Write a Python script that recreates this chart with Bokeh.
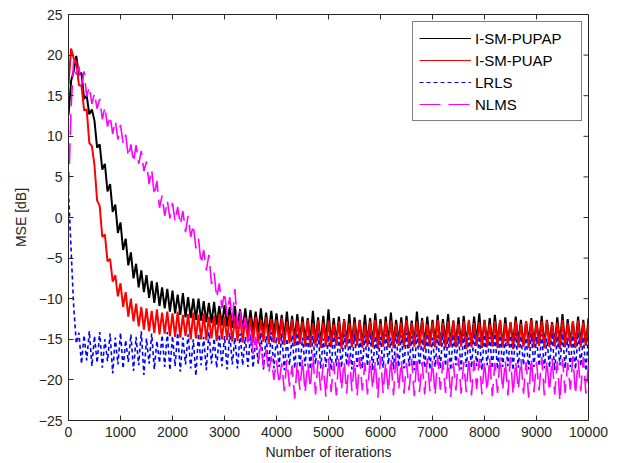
import math
from bokeh.plotting import figure
from bokeh.models import FixedTicker, Range1d, Legend
from bokeh.embed import file_html
from bokeh.resources import INLINE

# ---- data ----
iterations = list(range(0, 10001, 50))

x_ticks = [0, 1000, 2000, 3000, 4000, 5000, 6000, 7000, 8000, 9000, 10000]
y_ticks = [-25, -20, -15, -10, -5, 0, 5, 10, 15, 20, 25]

series_names = ["I-SM-PUPAP", "I-SM-PUAP", "LRLS", "NLMS"]

mse_ism_pupap = [
    12.6, 16.8, 18.0, 19.9, 17.6, 17.8, 14.6, 15.0, 12.7, 13.3,
    11.9, 8.6, 9.0, 5.9, 6.6, 3.2, 4.1, 0.7, 1.6, -1.9,
    -0.6, -4.0, -2.6, -5.9, -4.3, -7.5, -5.7, -8.6, -6.5, -9.2,
    -7.1, -9.9, -7.8, -10.5, -8.0, -10.9, -8.6, -11.2, -8.8, -11.6,
    -9.0, -11.8, -9.5, -12.0, -9.3, -12.3, -9.8, -12.4, -10.0, -12.6,
    -10.0, -12.7, -10.3, -12.9, -10.5, -13.0, -10.4, -13.2, -10.9, -13.3,
    -10.8, -13.4, -11.0, -13.6, -10.9, -13.7, -11.3, -13.8, -11.2, -14.0,
    -11.4, -14.0, -11.6, -14.1, -11.2, -14.3, -11.7, -14.4, -11.5, -14.5,
    -11.8, -14.6, -12.0, -14.8, -11.6, -14.9, -12.1, -15.0, -11.9, -15.1,
    -12.2, -15.2, -12.4, -15.4, -11.5, -15.3, -12.3, -15.6, -12.1, -15.2,
    -11.3, -15.5, -12.4, -15.3, -12.2, -15.7, -12.5, -15.4, -11.9, -15.6,
    -12.3, -15.3, -12.6, -15.8, -12.0, -15.4, -12.4, -15.6, -11.8, -15.5,
    -12.5, -15.7, -12.2, -15.4, -11.7, -15.6, -12.6, -15.3, -12.3, -15.8,
    -12.1, -15.5, -12.7, -15.6, -11.6, -15.4, -12.4, -15.7, -12.2, -15.5,
    -12.6, -15.4, -12.0, -15.8, -12.5, -15.3, -11.9, -15.6, -12.7, -15.5,
    -12.3, -15.7, -12.1, -15.4, -12.8, -15.6, -12.2, -15.3, -11.8, -15.7,
    -12.6, -15.5, -12.4, -15.6, -12.0, -15.4, -12.7, -15.8, -12.3, -15.5,
    -12.9, -15.6, -12.2, -15.4, -12.6, -15.7, -12.8, -15.3, -12.4, -15.6,
    -12.7, -15.5, -12.1, -15.8, -12.6, -15.4, -12.9, -15.6, -12.3, -15.5,
    -11.9, -15.7, -12.5, -15.4, -12.8, -15.6, -12.2, -15.5, -12.6, -15.7,
    -12.4,
]

mse_ism_puap = [
    16.4, 20.8, 19.6, 19.2, 16.3, 16.2, 13.2, 13.3, 9.2, 8.8,
    6.4, 2.1, 1.4, -2.4, -2.1, -5.4, -5.1, -7.9, -7.1, -9.7,
    -8.1, -11.0, -9.2, -12.2, -10.0, -12.8, -10.6, -13.4, -11.0, -13.8,
    -11.2, -14.0, -11.5, -14.2, -11.3, -14.4, -11.7, -14.3, -11.6, -14.6,
    -11.8, -14.7, -11.6, -14.8, -12.0, -14.6, -11.9, -15.0, -11.7, -14.9,
    -12.0, -15.0, -11.8, -15.1, -12.2, -14.9, -12.1, -15.2, -11.9, -15.0,
    -12.2, -15.1, -12.0, -15.3, -12.4, -15.2, -12.1, -15.4, -12.3, -15.2,
    -12.4, -15.4, -12.2, -15.5, -12.6, -15.3, -12.3, -15.6, -12.5, -15.4,
    -12.6, -15.6, -12.4, -15.7, -12.8, -15.5, -12.5, -15.8, -12.7, -15.6,
    -12.8, -15.9, -12.6, -16.0, -13.0, -15.8, -12.7, -16.1, -12.9, -15.9,
    -12.7, -16.0, -13.1, -15.8, -12.8, -16.2, -12.6, -15.9, -13.0, -16.0,
    -12.9, -15.8, -12.7, -16.1, -13.2, -15.9, -12.8, -16.0, -12.6, -16.2,
    -13.0, -15.9, -12.8, -16.0, -12.7, -16.1, -13.1, -15.8, -12.9, -16.0,
    -12.6, -16.1, -13.0, -15.9, -12.8, -16.0, -12.7, -16.2, -13.1, -15.9,
    -12.9, -16.0, -12.6, -15.8, -13.0, -16.1, -12.8, -15.9, -12.7, -16.0,
    -13.1, -15.9, -12.8, -16.2, -12.6, -16.0, -13.0, -15.8, -12.9, -16.1,
    -12.7, -16.0, -13.1, -15.9, -12.8, -16.1, -12.6, -16.0, -13.0, -15.8,
    -12.9, -16.2, -12.7, -16.0, -13.1, -15.9, -12.8, -16.1, -12.6, -16.0,
    -13.0, -15.8, -12.8, -16.1, -12.7, -16.0, -13.1, -15.9, -12.9, -16.2,
    -12.6, -16.0, -13.0, -15.9, -12.8, -16.1, -12.7, -16.0, -12.9, -15.8,
    -13.0,
]

mse_lrls = [
    3.2, -4.0, -11.0, -15.5, -14.2, -18.0, -14.5, -17.6, -14.0, -18.3,
    -14.6, -17.9, -14.1, -18.5, -15.0, -17.7, -14.3, -19.2, -14.8, -18.1,
    -14.2, -18.6, -15.1, -17.8, -14.4, -18.9, -14.7, -18.2, -14.0, -19.4,
    -14.9, -18.0, -14.3, -18.7, -15.2, -17.9, -14.5, -18.4, -14.1, -18.8,
    -14.6, -18.3, -14.2, -19.0, -14.8, -18.1, -14.4, -18.6, -15.0, -19.5,
    -14.3, -18.2, -14.7, -18.8, -14.1, -18.0, -14.9, -18.5, -14.4, -18.3,
    -14.6, -18.7, -14.2, -18.1, -14.8, -18.6, -14.3, -18.2, -14.7, -18.4,
    -14.4, -18.5, -14.9, -18.0, -14.2, -18.7, -14.6, -18.3, -14.1, -18.6,
    -14.7, -18.4, -14.3, -18.8, -14.9, -18.2, -14.5, -18.6, -14.2, -18.5,
    -14.8, -18.3, -14.4, -18.7, -14.6, -18.1, -14.3, -18.6, -14.9, -18.4,
    -14.5, -18.8, -14.2, -18.3, -14.7, -18.5, -14.4, -18.2, -14.8, -18.7,
    -14.3, -18.4, -14.9, -18.6, -14.5, -18.3, -14.2, -18.8, -14.6, -18.2,
    -14.7, -18.5, -14.4, -18.1, -14.8, -18.7, -14.3, -18.4, -14.5, -18.6,
    -14.2, -18.3, -14.6, -18.8, -14.4, -18.2, -14.9, -18.5, -14.3, -18.7,
    -14.8, -18.4, -14.5, -18.6, -14.2, -18.3, -14.7, -18.8, -14.4, -18.2,
    -14.6, -18.7, -14.3, -18.4, -14.8, -18.5, -14.2, -18.3, -14.6, -18.8,
    -14.4, -18.2, -14.7, -18.6, -14.3, -18.7, -14.5, -18.4, -14.9, -18.3,
    -14.5, -18.8, -14.2, -18.5, -14.6, -18.2, -14.8, -18.7, -14.3, -18.4,
    -14.7, -18.3, -14.4, -18.6, -14.9, -18.5, -14.2, -18.8, -14.6, -18.2,
    -14.3, -18.6, -14.8, -18.4, -14.5, -18.7, -14.2, -18.3, -14.7, -18.9,
    -14.6,
]

mse_nlms = [
    3.0, 13.5, 19.4, 17.6, 18.6, 16.2, 18.0, 14.9, 16.1, 14.0,
    15.3, 13.4, 14.6, 12.1, 13.6, 11.2, 12.5, 10.3, 11.9, 9.6,
    11.4, 9.1, 10.2, 7.5, 9.0, 6.8, 8.9, 6.6, 8.2, 5.7,
    6.9, 4.1, 5.9, 2.7, 4.5, 1.2, 2.7, 0.2, 2.1, -0.1,
    1.8, -0.5, 1.3, -0.9, 0.8, -1.8, 0.2, -2.4, -0.9, -3.8,
    -2.6, -5.7, -4.0, -6.5, -4.6, -8.2, -6.8, -9.9, -8.1, -11.2,
    -9.2, -12.0, -9.8, -12.7, -8.8, -13.5, -11.5, -14.1, -12.3, -15.4,
    -13.4, -16.8, -14.7, -17.6, -15.6, -18.5, -16.3, -19.2, -17.1, -20.0,
    -17.6, -20.5, -17.9, -21.4, -17.5, -20.8, -18.2, -22.3, -17.8, -21.2,
    -17.4, -21.6, -17.9, -21.0, -16.8, -21.8, -17.6, -21.3, -18.0, -22.1,
    -17.3, -21.5, -17.8, -21.9, -17.1, -21.2, -17.7, -21.7, -16.9, -21.4,
    -17.6, -22.0, -17.2, -21.3, -17.9, -21.8, -17.4, -21.1, -17.7, -22.2,
    -17.1, -21.6, -17.8, -21.4, -17.3, -21.9, -16.7, -21.2, -17.6, -21.7,
    -17.9, -21.3, -17.4, -22.0, -17.2, -21.5, -17.8, -21.8, -17.3, -21.4,
    -17.6, -21.9, -17.1, -21.2, -17.7, -21.6, -17.4, -22.1, -17.9, -21.3,
    -17.3, -21.7, -17.8, -21.5, -17.2, -21.9, -17.6, -21.1, -17.4, -21.8,
    -17.7, -21.4, -17.3, -22.0, -17.9, -21.6, -17.1, -21.3, -17.6, -21.9,
    -17.2, -21.8, -17.7, -21.2, -17.4, -21.7, -17.8, -22.2, -17.3, -21.5,
    -17.8, -21.3, -17.2, -21.9, -17.6, -21.4, -17.3, -21.8, -17.7, -22.6,
    -17.4, -21.6, -17.9, -21.2, -17.1, -21.8, -17.5, -21.4, -17.2, -21.7,
    -18.0,
]

# ---- figure ----
FONT = "Liberation Sans"
AX = "#262626"

p = figure(width=615, height=463, output_backend="svg", toolbar_location=None,
           x_range=Range1d(x_ticks[0], x_ticks[-1]), y_range=Range1d(y_ticks[0], y_ticks[-1]),
           min_border_left=68, min_border_right=27, min_border_top=14, min_border_bottom=43,
           background_fill_color="white", border_fill_color="white")
p.grid.visible = False
p.outline_line_color = AX
p.outline_line_width = 1

styles = [
    (mse_ism_pupap, "black", "solid", 2.0),
    (mse_ism_puap, "red", "solid", 2.0),
    (mse_lrls, "blue", "4 3", 1.6),
    (mse_nlms, "magenta", "21 8", 1.6),
]
items = []
for (vals, col, dash, lw), name in zip(styles, series_names):
    p.line(iterations, vals, line_color=col, line_dash=dash, line_width=lw)
    # thin single-point twin (draws nothing in the plot) used for the legend sample line
    key = p.line(x=iterations[:1], y=vals[:1], line_color=col, line_dash=dash, line_width=1)
    items.append((name, [key]))

legend = Legend(items=items, location=(344, 299),
                border_line_color="black", border_line_width=1,
                background_fill_color="white", background_fill_alpha=1,
                padding=6, spacing=2, margin=0,
                label_text_font=FONT, label_text_font_size="15px", label_text_color="black",
                label_height=20, glyph_height=20, glyph_width=52,
                label_standoff=4, label_width=100)
p.add_layout(legend, "center")

for ax in (p.xaxis[0], p.yaxis[0]):
    ax.axis_line_color = AX
    ax.major_tick_line_color = AX
    ax.major_tick_in = 5
    ax.major_tick_out = 0
    ax.minor_tick_line_color = None
    ax.major_label_text_font = FONT
    ax.major_label_text_font_size = "14px"
    ax.major_label_text_color = AX
    ax.axis_label_text_font = FONT
    ax.axis_label_text_font_size = "14px"
    ax.axis_label_text_font_style = "normal"
    ax.axis_label_text_color = AX

p.xaxis[0].ticker = FixedTicker(ticks=x_ticks)
p.yaxis[0].ticker = FixedTicker(ticks=y_ticks)
p.xaxis[0].axis_label = "Number of iterations"
p.yaxis[0].axis_label = "MSE [dB]"
p.xaxis[0].major_label_standoff = 6
p.xaxis[0].axis_label_standoff = 4
p.yaxis[0].major_label_standoff = 6
p.yaxis[0].axis_label_standoff = 7

# mirrored ticks on the top and right edges of the box (pointing inward)
p.ray(x=x_ticks, y=[y_ticks[-1]] * len(x_ticks), length=5, length_units="screen",
      angle=-math.pi / 2, line_color=AX, line_width=1)
p.ray(x=[x_ticks[-1]] * len(y_ticks), y=y_ticks, length=5, length_units="screen",
      angle=math.pi, line_color=AX, line_width=1)

open("out.html", "w").write(file_html(p, INLINE))
